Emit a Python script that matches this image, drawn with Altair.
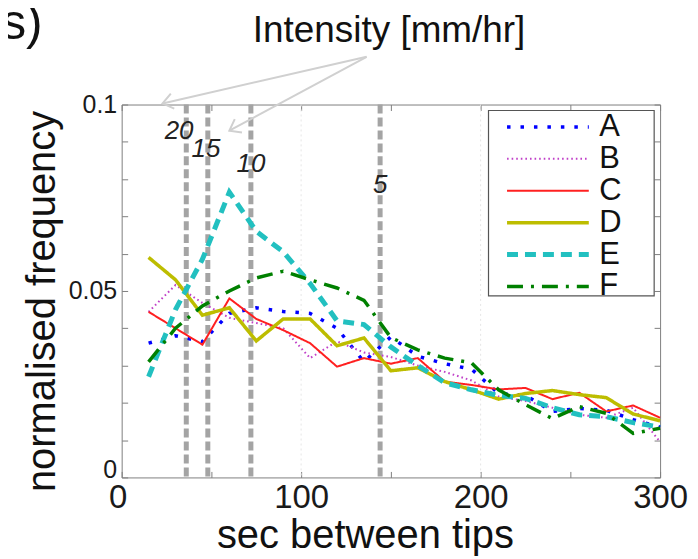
import altair as alt
import pandas as pd

# ---- data ----
sec = [15, 30, 45, 60, 75, 90, 105, 120, 135, 150, 165, 180, 195, 210, 225, 240, 255, 270, 285, 300]
series_names = ["A", "B", "C", "D", "E", "F"]
A = [0.036, 0.038, 0.0364, 0.044, 0.0455, 0.0445, 0.044, 0.040, 0.031, 0.0377, 0.0325, 0.0305, 0.029, 0.0225, 0.022, 0.0177, 0.0185, 0.018, 0.0155, 0.0135]
B = [0.0444, 0.0516, 0.0468, 0.0428, 0.0414, 0.040, 0.032, 0.0365, 0.0335, 0.0323, 0.030, 0.0283, 0.026, 0.0217, 0.0205, 0.0187, 0.0168, 0.016, 0.0187, 0.0095]
C = [0.0444, 0.040, 0.0356, 0.048, 0.0425, 0.0395, 0.036, 0.0297, 0.032, 0.0305, 0.032, 0.0257, 0.0248, 0.0236, 0.024, 0.021, 0.0227, 0.0177, 0.0193, 0.016]
D = [0.059, 0.053, 0.0435, 0.0455, 0.0366, 0.0425, 0.0425, 0.0353, 0.0374, 0.0286, 0.0294, 0.0257, 0.0235, 0.021, 0.0225, 0.0233, 0.0222, 0.0214, 0.017, 0.0152]
E = [0.027, 0.045, 0.0585, 0.0765, 0.066, 0.0605, 0.052, 0.042, 0.041, 0.035, 0.030, 0.0254, 0.0235, 0.022, 0.0212, 0.0187, 0.0168, 0.0163, 0.0147, 0.0135]
F = [0.031, 0.040, 0.046, 0.050, 0.0535, 0.0553, 0.053, 0.0508, 0.0475, 0.0375, 0.0342, 0.032, 0.0307, 0.0235, 0.0195, 0.0158, 0.019, 0.0172, 0.0118, 0.0132]

intensity_labels = ["20", "15", "10", "5"]
intensity_sec = [36, 48, 72, 144]

x_ticks = [0, 50, 100, 150, 200, 250, 300]
y_ticks = [0, 0.01, 0.02, 0.03, 0.04, 0.05, 0.06, 0.07, 0.08, 0.09, 0.1]
x_grid = [100, 200]

# ---- annotation placement (data coordinates) ----
label_x = [32, 47, 72, 144]
label_y = [0.0930, 0.0882, 0.0840, 0.0783]
arrow_start = (136.5, 0.1128)
arrow_tip_x = [22.8, 60.0]
arrow_tip_y = [0.1003, 0.0930]
arrow_angle = [167, 152]
title_text = "Intensity [mm/hr]"
title_pos = (149, 0.1198)
corner_text = "s)"
corner_pos = (-44, 0.1215)
legend_frame_x = [204.4, 296.7]
legend_frame_y = [0.0984, 0.0487]

# ---- styles ----
colors = ["#0000FF", "#C040C8", "#FF2020", "#BDBD00", "#22C0C0", "#008000"]
dashes = [[3.5, 10], [1.6, 3], [1, 0], [1, 0], [11, 7], [16, 8, 3, 8]]
widths = [3.5, 2, 2, 3.5, 5, 3.5]
FONT = "Liberation Sans"

rows = []
for name, vals, w in zip(series_names, [A, B, C, D, E, F], widths):
    for s, v in zip(sec, vals):
        rows.append({"sec": s, "freq": v, "series": name, "w": w})
df = pd.DataFrame(rows)

xscale = alt.Scale(domain=[0, 300], nice=False, zero=False)
yscale = alt.Scale(domain=[0, 0.1], nice=False, zero=False)

width_expr = "".join(
    f"datum.value == '{n}' ? {w} : " for n, w in zip(series_names, widths)
) + "2"

legend = alt.Legend(
    title=None,
    orient="none",
    legendX=412,
    legendY=7,
    symbolType="stroke",
    symbolSize=6724,
    symbolStrokeWidth={"expr": width_expr},
    labelFontSize=31,
    labelFont=FONT,
    labelColor="#111111",
    labelOffset=36,
    symbolOffset=0,
    rowPadding=0,
    padding=0,
)

x_axis = alt.Axis(
    values=x_ticks,
    labelExpr="datum.value % 100 == 0 ? datum.label : ''",
    format="d",
    tickSize=6,
    offset=-6,
    domain=False,
    grid=False,
    labelFontSize=33,
    labelPadding=4,
    labelOffset={"condition": {"test": "datum.value == 0", "value": -4}, "value": 0},
    labelFlush=False,
    labelOverlap=False,
    title="sec between tips",
    titleFontSize=40,
    titlePadding=1,
    titleX=244,
    titleAnchor="middle",
)
y_axis = alt.Axis(
    values=y_ticks,
    labelExpr="datum.value == 0 ? '0' : (abs(datum.value - 0.05) < 1e-6 ? '0.05' : (abs(datum.value - 0.1) < 1e-6 ? '0.1' : ''))",
    tickSize=6,
    offset=-6,
    domain=False,
    grid=False,
    labelFontSize=25,
    labelPadding=5,
    labelOffset={"condition": {"test": "datum.value == 0", "value": -8}, "value": 0},
    labelFlush=False,
    labelOverlap=False,
    title="normalised frequency",
    titleFontSize=40,
    titlePadding=6,
    titleY=197,
    titleAnchor="middle",
)

lines = alt.Chart(df).mark_line(strokeCap="butt").encode(
    x=alt.X("sec:Q", scale=xscale, axis=x_axis),
    y=alt.Y("freq:Q", scale=yscale, axis=y_axis),
    color=alt.Color("series:N", scale=alt.Scale(domain=series_names, range=colors), legend=legend),
    strokeDash=alt.StrokeDash("series:N", scale=alt.Scale(domain=series_names, range=dashes), legend=legend),
    strokeWidth=alt.StrokeWidth("w:Q", scale=None),
)

grid_df = pd.DataFrame({"sec": x_grid})
grid = alt.Chart(grid_df).mark_rule(color="#e6e6e6", strokeWidth=1, strokeDash=[2, 3]).encode(
    x=alt.X("sec:Q", scale=xscale, axis=None)
)

frame_df = pd.DataFrame({"x0": [legend_frame_x[0]], "x1": [legend_frame_x[1]],
                         "y0": [legend_frame_y[0]], "y1": [legend_frame_y[1]]})
frame = alt.Chart(frame_df).mark_rect(fill="white", stroke="#555555", strokeWidth=1.2).encode(
    x=alt.X("x0:Q", scale=xscale, axis=None),
    x2="x1:Q",
    y=alt.Y("y0:Q", scale=yscale, axis=None),
    y2="y1:Q",
)

int_df = pd.DataFrame({"sec": intensity_sec, "label": intensity_labels, "lx": label_x, "ly": label_y})
vrules = alt.Chart(int_df).mark_rule(color="#A4A4A4", strokeWidth=5, strokeDash=[9, 4]).encode(
    x=alt.X("sec:Q", scale=xscale, axis=None)
)
vlabels = alt.Chart(int_df).mark_text(
    font=FONT, fontSize=26, fontStyle="italic", color="#222222", align="center", baseline="middle"
).encode(
    x=alt.X("lx:Q", scale=xscale,
            axis=alt.Axis(orient="top", values=x_ticks, labels=False, tickSize=6, offset=-6,
                          domain=False, grid=False, title=None)),
    y=alt.Y("ly:Q", scale=yscale,
            axis=alt.Axis(orient="right", values=y_ticks, labels=False, tickSize=6, offset=-6,
                          domain=False, grid=False, title=None)),
    text="label:N",
)

arrow_df = pd.DataFrame({
    "x0": [arrow_start[0]] * 2, "y0": [arrow_start[1]] * 2,
    "x1": arrow_tip_x, "y1": arrow_tip_y, "ang": arrow_angle,
})
arrows = alt.Chart(arrow_df).mark_rule(color="#d0d0d0", strokeWidth=2).encode(
    x=alt.X("x0:Q", scale=xscale, axis=None),
    y=alt.Y("y0:Q", scale=yscale, axis=None),
    x2="x1:Q",
    y2="y1:Q",
)
heads = alt.Chart(arrow_df).mark_point(
    shape="M -1 -0.75 L 0 0 L -1 0.75", filled=False, color="#d0d0d0", strokeWidth=2, size=420, opacity=1
).encode(
    x=alt.X("x1:Q", scale=xscale, axis=None),
    y=alt.Y("y1:Q", scale=yscale, axis=None),
    angle=alt.Angle("ang:Q", scale=None),
)

txt_df = pd.DataFrame({
    "x": [title_pos[0], corner_pos[0]],
    "y": [title_pos[1], corner_pos[1]],
    "t": [title_text, corner_text],
})
title_txt = alt.Chart(txt_df.iloc[[0]]).mark_text(
    font=FONT, fontSize=37, color="#111111", align="center", baseline="middle"
).encode(
    x=alt.X("x:Q", scale=xscale, axis=None),
    y=alt.Y("y:Q", scale=yscale, axis=None),
    text="t:N",
)
corner_txt = alt.Chart(txt_df.iloc[[1]]).mark_text(
    font=FONT, fontSize=50, color="#111111", align="right", baseline="middle"
).encode(
    x=alt.X("x:Q", scale=xscale, axis=None),
    y=alt.Y("y:Q", scale=yscale, axis=None),
    text="t:N",
)

chart = (
    alt.layer(grid, vrules, vlabels, lines, frame, arrows, heads, title_txt, corner_txt)
    .resolve_axis(x="independent", y="independent")
    .properties(
        width=540,
        height=374,
        autosize=alt.AutoSizeParams(type="none"),
        padding={"left": 114, "top": 96, "right": 30, "bottom": 80},
    )
    .configure_view(stroke="#808080", strokeWidth=1)
    .configure_axis(
        labelFont=FONT,
        titleFont=FONT,
        labelColor="#1a1a1a",
        titleColor="#111111",
        titleFontWeight="normal",
        tickColor="#808080",
    )
)

chart.save("out.html", embed_options={"renderer": "svg", "actions": False})
